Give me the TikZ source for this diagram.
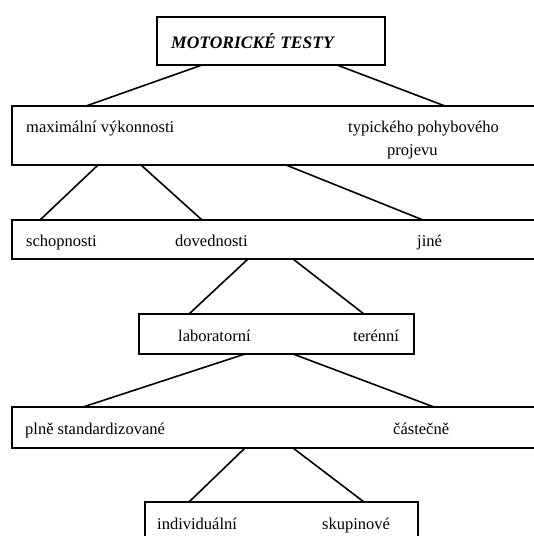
\documentclass[tikz,border=0pt]{standalone}
\usepackage{fontspec}
\setmainfont{Liberation Serif}
\tikzset{
  box/.style={draw, line width=1.8pt, rectangle, inner sep=0pt, outer sep=0pt},
  txt/.style={anchor=base west, inner sep=0pt, font=\fontsize{16.5}{19}\selectfont},
  link/.style={line width=1.6pt}
}
\begin{document}
\begin{tikzpicture}[x=1pt,y=-1pt]

\useasboundingbox (0,0) rectangle (534,536);
\clip (0,0) rectangle (534,536);

% boxes
\node[box, minimum width=228pt, minimum height=48pt] (top) at (271,41) {};
\node[box, minimum width=560pt, minimum height=59pt] (vykon) at (292,135.5) {};
\node[box, minimum width=560pt, minimum height=39pt] (druh) at (292,239.5) {};
\node[box, minimum width=275pt, minimum height=40pt] (misto) at (276.5,334) {};
\node[box, minimum width=560pt, minimum height=41pt] (stand) at (292,427.5) {};
\node[box, minimum width=273pt, minimum height=58pt] (org) at (281.5,531) {};

% texts
\node[txt, font=\fontsize{17.5}{19}\selectfont\bfseries\itshape] (title) at (171,48) {MOTORICKÉ TESTY};
\node[txt] (max) at (26,132) {maximální výkonnosti};
\node[txt] (typ) at (348,132) {typického pohybového};
\node[txt] (typb) at (387,155) {projevu};
\node[txt] (schop) at (26,246) {schopnosti};
\node[txt] (doved) at (175,246) {dovednosti};
\node[txt] (jine) at (417,246) {jiné};
\node[txt] (lab) at (178,341) {laboratorní};
\node[txt] (ter) at (353,341) {terénní};
\node[txt] (plne) at (25,434) {plně standardizované};
\node[txt] (cast) at (393,434) {částečně};
\node[txt] (indiv) at (157,529) {individuální};
\node[txt] (skup) at (322,529) {skupinové};

% connectors
\draw[link] ([xshift=45pt]top.south west) -- ([xshift=74pt]vykon.north west);
\draw[link] ([xshift=180pt]top.south west) -- ([xshift=433pt]vykon.north west);

\draw[link] ([xshift=86pt]vykon.south west) -- ([xshift=28pt]druh.north west);
\draw[link] ([xshift=129pt]vykon.south west) -- ([xshift=190pt]druh.north west);
\draw[link] ([xshift=274pt]vykon.south west) -- ([xshift=411pt]druh.north west);

\draw[link] ([xshift=236pt]druh.south west) -- ([xshift=50pt]misto.north west);
\draw[link] ([xshift=281pt]druh.south west) -- ([xshift=225pt]misto.north west);

\draw[link] ([xshift=106pt]misto.south west) -- ([xshift=71pt]stand.north west);
\draw[link] ([xshift=154pt]misto.south west) -- ([xshift=422pt]stand.north west);

\draw[link] ([xshift=233pt]stand.south west) -- ([xshift=44pt]org.north west);
\draw[link] ([xshift=281pt]stand.south west) -- ([xshift=219pt]org.north west);

\end{tikzpicture}
\end{document}
